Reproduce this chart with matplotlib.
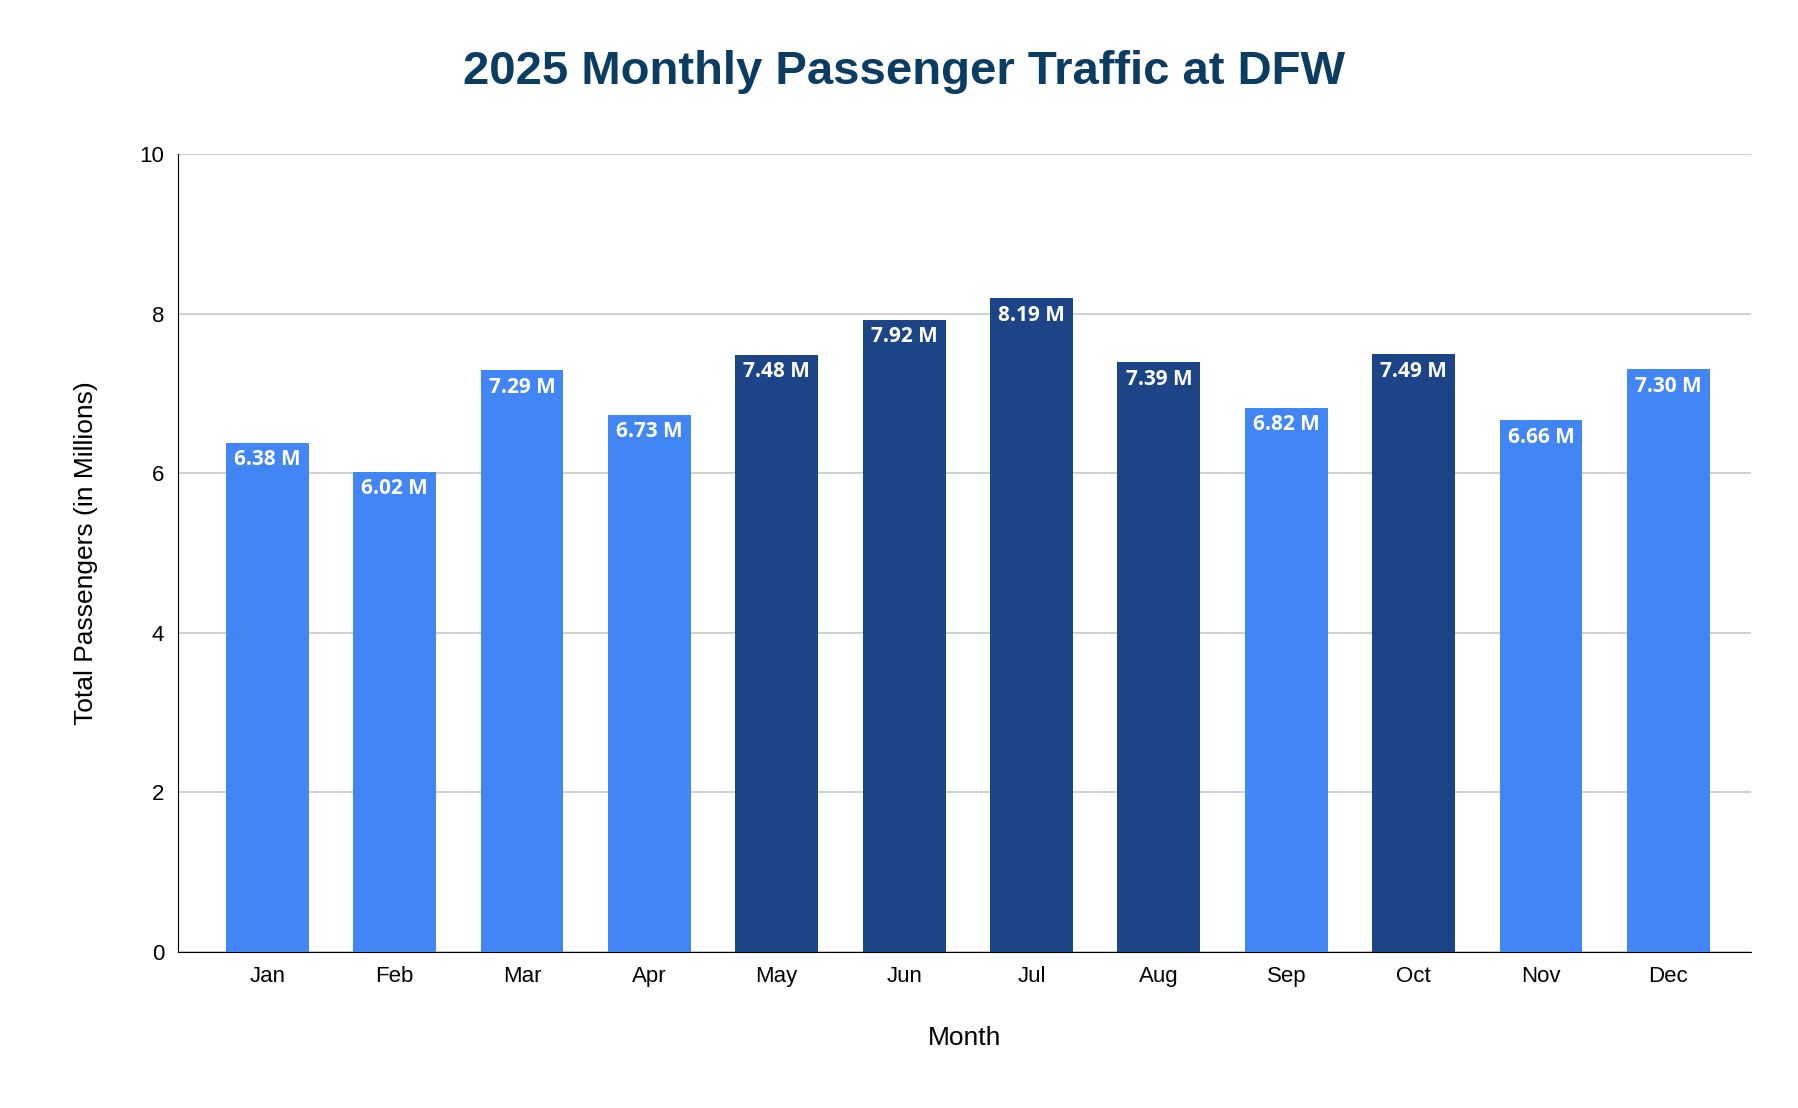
import matplotlib.pyplot as plt

months = ['Jan', 'Feb', 'Mar', 'Apr', 'May', 'Jun', 'Jul', 'Aug', 'Sep', 'Oct', 'Nov', 'Dec']
passengers = [6.38, 6.02, 7.29, 6.73, 7.48, 7.92, 8.19, 7.39, 6.82, 7.49, 6.66, 7.30]
peak_months = ['May', 'Jun', 'Jul', 'Aug', 'Oct']

light = '#4285F4'
dark = '#1C4587'
colors = [dark if m in peak_months else light for m in months]

plt.rcParams['font.family'] = ['Liberation Sans', 'DejaVu Sans']
fig = plt.figure(figsize=(17.98, 11.08), dpi=100)
ax = fig.add_axes([0.099, 0.141, 0.875, 0.72])

bars = ax.bar(months, passengers, width=0.65, color=colors, zorder=3)
for b, v in zip(bars, passengers):
    ax.text(b.get_x() + b.get_width() / 2, v - 0.08, f'{v:.2f} M', ha='center', va='top',
            color='white', fontsize=15, fontweight='bold', family=['Open Sans', 'DejaVu Sans'], zorder=4)

ax.set_ylim(0, 10)
ax.set_xlim(-0.7, 11.65)
ax.set_yticks([0, 2, 4, 6, 8, 10])
ax.grid(axis='y', color='#c8c8c8', linewidth=1.2, zorder=0)
ax.tick_params(axis='both', length=0, labelsize=16, pad=10)
for s in ['top', 'right']:
    ax.spines[s].set_visible(False)
ax.spines['left'].set_color('black')
ax.spines['bottom'].set_color('black')

ax.set_xlabel('Month', fontsize=19, labelpad=28)
ax.set_ylabel('Total Passengers (in Millions)', fontsize=19, labelpad=30)
fig.suptitle('2025 Monthly Passenger Traffic at DFW', x=0.503, y=0.955, fontsize=34,
             fontweight='bold', color='#0B3C61')

fig.savefig('out.png', dpi=100)
